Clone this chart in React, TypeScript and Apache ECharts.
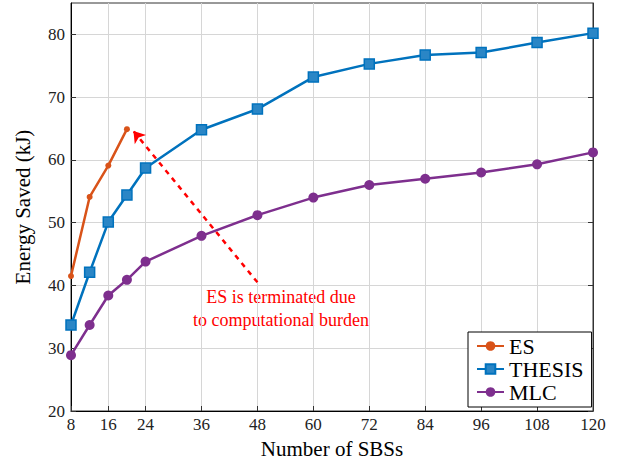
import React, { useEffect, useRef } from "react";
import * as echarts from "echarts";

const xTicks = [8, 16, 24, 36, 48, 60, 72, 84, 96, 108, 120];
const yTicks = [20, 30, 40, 50, 60, 70, 80];
const esX = [8, 12, 16, 20];
const esY = [41.5, 54.1, 59.1, 64.9];
const nX = [8, 12, 16, 20, 24, 36, 48, 60, 72, 84, 96, 108, 120];
const thesisY = [33.7, 42.1, 50.1, 54.4, 58.7, 64.8, 68.1, 73.2, 75.3, 76.7, 77.1, 78.7, 80.2];
const mlcY = [28.9, 33.7, 38.4, 40.9, 43.8, 47.9, 51.2, 54.0, 56.0, 57.0, 58.0, 59.3, 61.2];
const arrowFrom = [48, 40.5];
const arrowTo = [21.4, 64.6];
const noteLines = ["ES is terminated due", "to computational burden"];

const FONT = "'Liberation Serif', 'Times New Roman', 'DejaVu Serif', serif";

export default function App() {
  const ref = useRef<HTMLDivElement>(null);
  useEffect(() => {
    const chart = echarts.init(ref.current!, null, { renderer: "svg" });
    const pair = (xs: number[], ys: number[]) => xs.map((x, i) => [x, ys[i]]);
    chart.setOption({
      animation: false,
      textStyle: { fontFamily: FONT },
      grid: {
        left: 71,
        right: 34,
        top: 3,
        bottom: 55,
        show: true,
        borderColor: "#333",
        borderWidth: 1,
      },
      legend: {
        left: 468,
        top: 332,
        orient: "vertical",
        backgroundColor: "#fff",
        borderColor: "#000",
        borderWidth: 1,
        padding: [3, 8, 4, 8],
        itemGap: 1,
        itemWidth: 27,
        itemHeight: 12,
        textStyle: { fontFamily: FONT, fontSize: 22, color: "#000", padding: [0, 0, 0, 0] },
        data: ["ES", "THESIS", "MLC"],
      },
      xAxis: {
        type: "value",
        min: 8,
        max: 120,
        name: "Number of SBSs",
        nameLocation: "middle",
        nameGap: 27,
        nameTextStyle: { fontFamily: FONT, fontSize: 21, color: "#000" },
        axisLine: { lineStyle: { color: "#000", width: 1 } },
        axisTick: { inside: true, length: 5, customValues: xTicks, lineStyle: { color: "#333" } },
        axisLabel: { customValues: xTicks, fontFamily: FONT, fontSize: 17, color: "#222", margin: 5 },
        splitLine: { show: true, lineStyle: { color: "#d6d6d6", width: 1 } },
      },
      yAxis: [
        {
          type: "value",
          min: 20,
          max: 85,
          interval: 10,
          name: "Energy Saved (kJ)",
          nameLocation: "middle",
          nameGap: 38,
          nameTextStyle: { fontFamily: FONT, fontSize: 21, color: "#000" },
          axisLine: { show: true, lineStyle: { color: "#000", width: 1 } },
          axisTick: { show: true, inside: true, length: 5, customValues: yTicks, lineStyle: { color: "#333" } },
          axisLabel: { customValues: yTicks, fontFamily: FONT, fontSize: 17, color: "#222", margin: 6 },
          splitLine: { show: true, lineStyle: { color: "#d6d6d6", width: 1 } },
        },
        {
          type: "value",
          min: 20,
          max: 85,
          interval: 10,
          position: "right",
          axisLine: { show: true, lineStyle: { color: "#333", width: 1 } },
          axisTick: { show: true, inside: true, length: 5, customValues: yTicks, lineStyle: { color: "#333" } },
          axisLabel: { show: false },
          splitLine: { show: false },
        },
      ],
      series: [
        {
          name: "ES",
          type: "line",
          data: pair(esX, esY),
          color: "#D95319",
          symbol: "circle",
          symbolSize: 6,
          lineStyle: { width: 2.5 },
          z: 4,
          markLine: {
            silent: true,
            symbol: ["none", "arrow"],
            symbolSize: 11,
            z: 6,
            label: { show: false },
            lineStyle: { color: "#ff0000", type: [5, 5], width: 2.5 },
            data: [[{ coord: arrowFrom }, { coord: arrowTo }]],
          },
        },
        {
          name: "THESIS",
          type: "line",
          data: pair(nX, thesisY),
          color: "#0072BD",
          symbol: "rect",
          symbolSize: 10,
          itemStyle: { color: "#2a86c6", borderColor: "#0072BD", borderWidth: 1.5 },
          lineStyle: { width: 2.5, color: "#0072BD" },
          z: 3,
        },
        {
          name: "MLC",
          type: "line",
          data: pair(nX, mlcY),
          color: "#7E2F8E",
          symbol: "circle",
          symbolSize: 10,
          lineStyle: { width: 2.5 },
          z: 3,
        },
      ],
      graphic: [
        {
          type: "text",
          x: 281,
          y: 285.5,
          style: {
            text: noteLines.join("\n"),
            fill: "#ff0000",
            fontFamily: FONT,
            fontSize: 18,
            textAlign: "center",
            textVerticalAlign: "top",
            lineHeight: 23,
          },
        },
      ],
    });
    return () => chart.dispose();
  }, []);
  return (
    <div
      ref={ref}
      style={{ position: "fixed", left: 0, top: 0, width: 627, height: 466, background: "#fff" }}
    />
  );
}
